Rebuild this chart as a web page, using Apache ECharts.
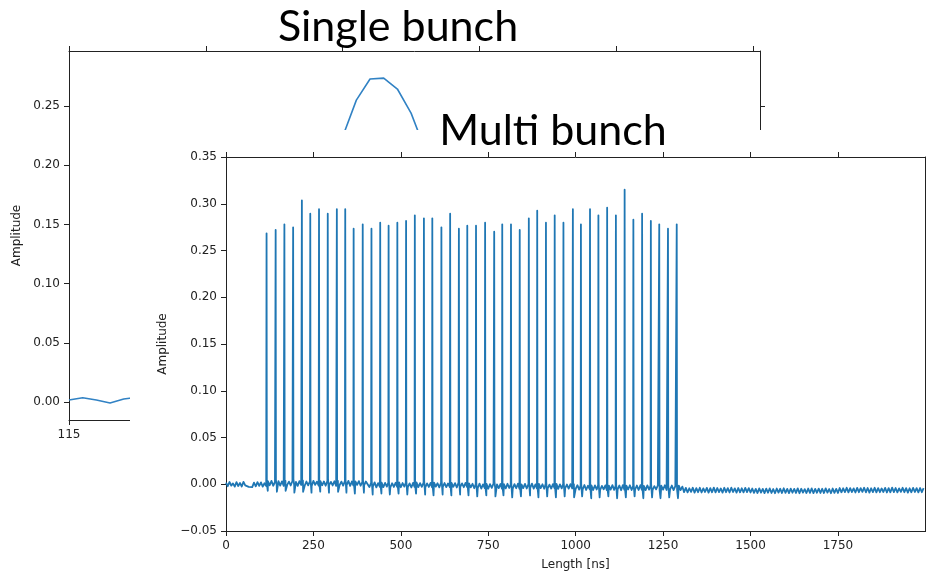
<!DOCTYPE html>
<html><head><meta charset="utf-8">
<script src="https://cdn.jsdelivr.net/npm/echarts@6/dist/echarts.min.js"></script>
<style>html,body{margin:0;padding:0;background:#fff}#c{width:926px;height:576px}</style>
</head><body><div id="c"></div>
<script>
// ---------- Single bunch (background plot) ----------
const singleStart = 115;       // ns, first sample
const singleStep = 0.5;        // ns per sample
const singleAmp = [0.0017,0.0036,0.0017,-0.0008,0.0025,0.004,0.003,0.006,0.008,0.012,
  0.018,0.026,0.037,0.050,0.066,0.085,0.106,0.129,0.153,0.190,
  0.224,0.255,0.2728,0.2736,0.2644,0.244,0.214,0.185,0.156,0.128,
  0.102,0.079,0.060,0.044,0.031,0.021,0.014,0.008,0.004,0.001,
  -0.002,-0.004,-0.005,-0.004,-0.003,-0.001,0.000,0.001,0.001,0.000,0.001];
const singleXTicks = [115,120,125,130,135,140];
const singleYTicks = [0,0.05,0.10,0.15,0.20,0.25];

// ---------- Multi bunch (foreground plot) ----------
const multiXTicks = [0,250,500,750,1000,1250,1500,1750];
const multiYTicks = [-0.05,0,0.05,0.10,0.15,0.20,0.25,0.30,0.35];
const baseStep = 5; // ns between baseline samples
const baseMilli = [
  // 0-115 ns
  1.8,-2.1,2.4,-1.5,0.9,-2.6,2.2,-1.9,1.4,-2.4,2.6,-1.2,-0.5,-2.8,-1.6,-3.0,1.7,-2.2,2.3,-1.7,2.0,-2.5,1.1,-1.8,
  // 120-400 ns
  3.2,-1.1,3.6,-1.6,2.4,-0.9,3.4,-1.4,3.0,-1.8,3.7,-0.7,2.8,-1.3,3.5,-1.0,2.6,-1.7,3.3,-0.8,
  3.8,-1.5,2.9,-1.2,3.1,-1.9,3.6,-0.6,2.7,-1.4,3.4,-1.1,3.0,-1.6,3.7,-0.9,2.5,-1.3,3.2,-1.8,
  3.5,-0.8,2.8,-1.5,3.3,-1.0,3.6,-1.7,2.9,-1.2,3.1,-0.7,3.4,-1.6,2.6,-1.1,3.0,
  // 405-700 ns
  1.8,-3.0,1.5,-2.6,2.0,-3.3,1.2,-2.8,1.7,-3.1,1.4,-2.5,1.9,-3.4,1.1,-2.9,1.6,-2.7,2.1,-3.2,
  1.3,-2.6,1.8,-3.0,1.0,-3.5,1.5,-2.8,1.9,-3.1,1.2,-2.7,1.7,-3.3,0.9,-2.9,1.4,-3.2,1.8,-2.6,
  1.1,-3.4,1.6,-2.8,1.3,-3.1,0.8,-3.0,1.5,-2.7,1.2,-3.5,1.7,-2.9,0.9,-3.2,1.4,-2.8,1.0,-3.4,
  // 705-1000 ns
  0.5,-4.3,0.1,-4.0,0.7,-4.6,-0.1,-4.2,0.4,-4.8,0.2,-3.9,0.6,-4.5,-0.2,-4.1,0.3,-4.7,0.0,-4.4,
  0.5,-4.0,-0.3,-4.6,0.2,-4.3,0.6,-4.9,-0.1,-4.2,0.4,-4.5,0.1,-4.0,0.7,-4.7,-0.2,-4.4,0.3,-4.1,
  0.0,-4.8,0.5,-4.3,-0.4,-4.6,0.2,-4.0,0.4,-4.9,-0.1,-4.4,0.3,-4.2,-0.3,-4.7,0.1,-4.5,-0.2,-4.8,
  // 1005-1300 ns
  -1.0,-5.8,-1.4,-5.5,-0.8,-6.1,-1.6,-5.3,-1.1,-6.2,-1.3,-5.6,-0.9,-6.0,-1.7,-5.4,-1.2,-6.3,-1.5,-5.7,
  -1.0,-6.0,-1.8,-5.5,-1.3,-6.4,-0.9,-5.8,-1.6,-5.6,-1.1,-6.2,-1.9,-5.4,-1.4,-6.1,-1.0,-5.9,-1.7,-6.3,
  -1.2,-5.7,-1.5,-6.0,-2.0,-5.5,-1.3,-6.4,-1.6,-5.8,-1.1,-6.1,-1.8,-5.6,-1.4,-6.3,-2.1,-5.9,-1.5,-6.2,
  // 1305-1500 ns
  -2.5,-8.4,-3.9,-8.7,-4.3,-8.2,-3.7,-8.9,-4.1,-8.5,-3.8,-8.8,-4.4,-8.3,-3.9,-9.0,-4.2,-8.6,-3.6,-8.7,
  -4.0,-8.4,-4.5,-8.9,-3.8,-8.5,-4.2,-8.8,-3.7,-8.3,-4.4,-9.0,-4.0,-8.6,-4.3,-8.7,-3.9,-8.4,-4.1,-8.8,
  // 1505-1750 ns
  -4.6,-9.2,-4.9,-9.4,-4.4,-9.0,-5.0,-9.5,-4.7,-9.1,-4.5,-9.3,-5.1,-9.6,-4.6,-9.0,-4.8,-9.4,-4.3,-9.2,
  -5.0,-9.5,-4.7,-9.1,-4.9,-9.3,-4.4,-9.6,-4.8,-9.0,-5.2,-9.4,-4.6,-9.2,-4.5,-9.5,-5.0,-9.1,-4.7,-9.3,
  -4.8,-9.4,-4.4,-9.0,-5.1,-9.6,-4.6,-9.2,-4.9,-9.3,
  // 1755-1995 ns
  -4.0,-8.6,-4.3,-8.4,-3.8,-8.7,-4.1,-8.3,-4.4,-8.8,-3.9,-8.5,-4.2,-8.2,-3.7,-8.6,-4.0,-8.9,-4.3,-8.4,
  -3.8,-8.7,-4.1,-8.5,-4.5,-8.3,-3.9,-8.8,-4.2,-8.6,-3.6,-8.4,-4.0,-8.7,-4.4,-8.2,-3.8,-8.5,-4.1,-8.9,
  -4.3,-8.6,-3.9,-8.3,-4.2,-8.7,-4.0,-8.5,-4.1];
const bunchTimes = [116,142,167,192,217,241,266,291,317,341,365,391,416,441,465,490,515,540,566,590,
  616,641,666,690,715,741,767,790,815,840,866,890,915,940,965,992,1015,1041,1065,1090,
  1115,1140,1165,1190,1215,1239,1264,1289];
const bunchPeaks = [0.2684,0.2719,0.2780,0.2748,0.3037,0.2894,0.2941,0.2894,0.2941,0.2941,
  0.2733,0.2780,0.2733,0.2797,0.2765,0.2797,0.2816,0.2876,0.2844,0.2844,
  0.2748,0.2894,0.2733,0.2765,0.2765,0.2797,0.2701,0.2780,0.2780,0.2719,
  0.2844,0.2926,0.2797,0.2876,0.2797,0.2941,0.2780,0.2941,0.2876,0.2958,
  0.2876,0.3150,0.2829,0.2894,0.2816,0.2780,0.2733,0.2780];
const bunchDipsMilli = [-7,-8,-7,-9,-8,-9,-8,-9,-8,-9,-10,-9,-11,-10,-11,-10,-11,-10,-11,-12,
  -11,-12,-11,-12,-13,-12,-13,-12,-14,-13,-12,-14,-13,-14,-13,-14,-13,-15,-14,-13,
  -15,-14,-13,-15,-14,-15,-14,-15];

// ---------- build tables ----------
const singlePts = singleAmp.map((v,i)=>[singleStart + i*singleStep, v]);
const multiPts = baseMilli.map((v,i)=>[i*baseStep, v/1000]);
bunchTimes.forEach((t,i)=>{
  const lvl = baseMilli[Math.floor(t/baseStep)]/1000;
  multiPts.push([t-0.8,lvl],[t,bunchPeaks[i]],[t+0.8,lvl+0.002],[t+3.5,bunchDipsMilli[i]/1000]);
});
multiPts.sort((a,b)=>a[0]-b[0]);

const AX = '#222';
const FONT = 'DejaVu Sans';
function fmt(v){ return v < -1e-9 ? '\u2212' + (-v).toFixed(2) : Math.abs(v).toFixed(2); }
function ax(o){
  const base = {
    type:'value', scale:false, z:o.z||0,
    axisLine:{show:true, onZero:false, lineStyle:{color:AX,width:1}},
    axisTick:{show:true, inside:false, length:5, lineStyle:{color:AX,width:1}, customValues:o.ticks},
    axisLabel:{show:!!o.labels, customValues:o.ticks, margin:9, color:AX, fontFamily:FONT, fontSize:12, formatter:o.fmt},
    splitLine:{show:false}, minorTick:{show:false}
  };
  return Object.assign(base, o.extra);
}

const option = {
  animation:false,
  backgroundColor:'#fff',
  grid:[
    {left:69, top:51, width:691, height:369, outerBoundsMode:'none', containLabel:false},
    {left:226, top:157, width:699, height:374, outerBoundsMode:'none', containLabel:false}
  ],
  xAxis:[
    ax({ticks:singleXTicks, labels:true, fmt:v=>String(v), extra:{gridIndex:0, position:'bottom', min:115, max:140.25}}),
    ax({ticks:singleXTicks, labels:false, extra:{gridIndex:0, position:'top', min:115, max:140.25}}),
    ax({ticks:multiXTicks, labels:true, fmt:v=>String(v), z:60, extra:{gridIndex:1, position:'bottom', min:0, max:1999,
      name:'Length [ns]', nameLocation:'middle', nameGap:28, nameTextStyle:{color:AX, fontFamily:FONT, fontSize:12}}}),
    ax({ticks:multiXTicks, labels:false, z:60, extra:{gridIndex:1, position:'top', min:0, max:1999}})
  ],
  yAxis:[
    ax({ticks:singleYTicks, labels:true, fmt:fmt, extra:{gridIndex:0, position:'left', min:-0.0152, max:0.2965,
      name:'Amplitude', nameLocation:'middle', nameGap:42, nameRotate:90, nameTextStyle:{color:AX, fontFamily:FONT, fontSize:12}}}),
    ax({ticks:singleYTicks, labels:false, extra:{gridIndex:0, position:'right', min:-0.0152, max:0.2965}}),
    ax({ticks:multiYTicks, labels:true, fmt:fmt, z:60, extra:{gridIndex:1, position:'left', min:-0.05, max:0.35,
      name:'Amplitude', nameLocation:'middle', nameGap:51, nameRotate:90, nameTextStyle:{color:AX, fontFamily:FONT, fontSize:12}}}),
    ax({ticks:multiYTicks, labels:false, z:60, extra:{gridIndex:1, position:'right', min:-0.05, max:0.35}})
  ],
  series:[
    {type:'line', xAxisIndex:0, yAxisIndex:0, data:singlePts, showSymbol:false, symbol:'none', z:2,
      lineStyle:{color:'#3182c4', width:1.6}, itemStyle:{color:'#3182c4'}},
    {type:'line', xAxisIndex:2, yAxisIndex:2, data:multiPts, showSymbol:false, symbol:'none', z:61, sampling:null,
      lineStyle:{color:'#1f77b4', width:1.8, join:'round'}, itemStyle:{color:'#1f77b4'}}
  ],
  graphic:[
    {type:'rect', z:50, shape:{x:130, y:130, width:796, height:446}, style:{fill:'#fff'}},
    {type:'text', z:100, x:398, y:27, style:{text:'Single bunch', fill:'#000', font:'43px Lato', textAlign:'center', textVerticalAlign:'middle', verticalAlign:'middle'}},
    {type:'text', z:100, x:553, y:131, style:{text:'Multi bunch', fill:'#000', font:'43px Lato', textAlign:'center', textVerticalAlign:'middle', verticalAlign:'middle'}}
  ]
};
const chart = echarts.init(document.getElementById('c'), null, {renderer:'canvas'});
chart.setOption(option);
</script>
</body></html>
